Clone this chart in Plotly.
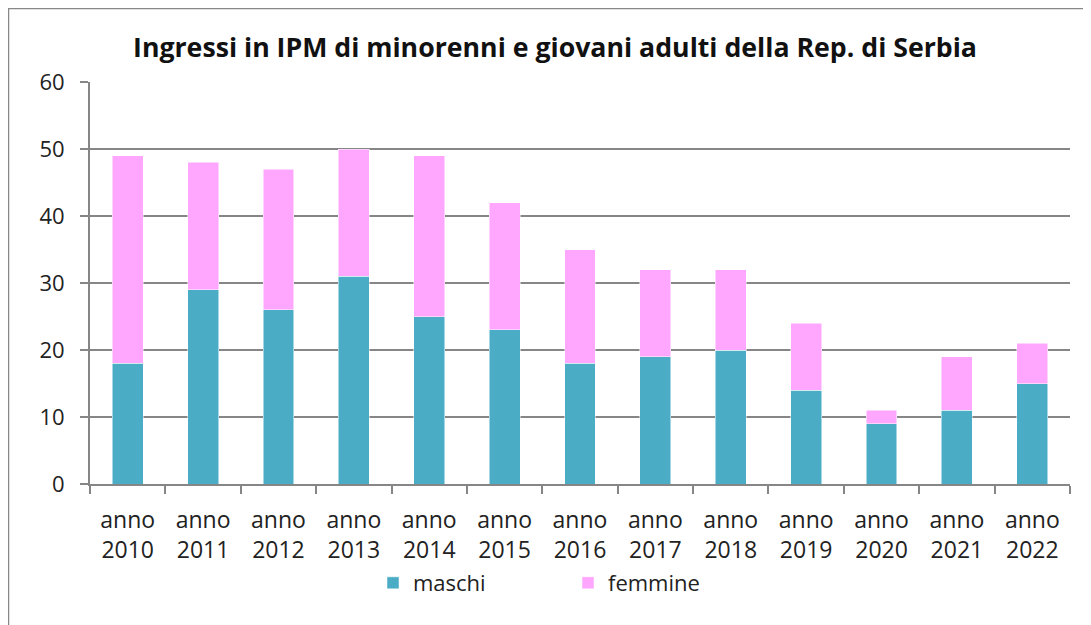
import plotly.graph_objects as go

categories = ["anno<br>2010", "anno<br>2011", "anno<br>2012", "anno<br>2013", "anno<br>2014",
              "anno<br>2015", "anno<br>2016", "anno<br>2017", "anno<br>2018", "anno<br>2019",
              "anno<br>2020", "anno<br>2021", "anno<br>2022"]
maschi = [18, 29, 26, 31, 25, 23, 18, 19, 20, 14, 9, 11, 15]
femmine = [31, 19, 21, 19, 24, 19, 17, 13, 12, 10, 2, 8, 6]
y_ticks = [0, 10, 20, 30, 40, 50, 60]

# the page adds an 8px body margin; work in page pixels and convert
OFF = 8
W, H = 1091 - OFF, 625 - OFF
L, T = 90 - OFF, 82 - OFF
R = W - (1070 - OFF)
B = H - (484 - OFF)
pw, ph = W - L - R, H - T - B

def px(x):
    return (x - OFF - L) / pw

def py(y):
    return (H - B - (y - OFF)) / ph

FONT = "Open Sans"
fig = go.Figure()
fig.add_trace(go.Bar(x=categories, y=maschi, name="maschi",
                     marker=dict(color="#4BACC6", line=dict(color="white", width=0.5))))
fig.add_trace(go.Bar(x=categories, y=femmine, name="femmine",
                     marker=dict(color="#FFA6FF", line=dict(color="white", width=0.5))))

fig.update_layout(
    width=W, height=H,
    barmode="stack", bargap=0.59,
    margin=dict(l=L, r=R, t=T, b=B, autoexpand=False),
    paper_bgcolor="white", plot_bgcolor="white",
    font=dict(family=FONT, size=22, color="#222222"),
    title=dict(text="<b>Ingressi in IPM di minorenni e giovani adulti della Rep. di Serbia</b>",
               x=px(555), xref="paper", xanchor="center",
               y=1 - (48 - OFF) / H, yanchor="middle",
               font=dict(family=FONT, size=26.7, color="#111111")),
    legend=dict(orientation="h", x=px(373), xanchor="left", y=py(583), yanchor="middle",
                font=dict(size=22), entrywidth=150, itemwidth=30,
                traceorder="normal"),
    xaxis=dict(type="category", showgrid=False, showline=True, linecolor="#868686", linewidth=2,
               ticks="outside", tickson="boundaries", ticklen=8, tickcolor="#868686", tickwidth=2,
               tickfont=dict(size=23), ticklabelstandoff=14, fixedrange=True),
    yaxis=dict(range=[0, 60], tickvals=y_ticks, showgrid=True, gridcolor="#868686", gridwidth=1.5,
               showline=True, linecolor="#868686", linewidth=2, zeroline=False,
               ticks="outside", ticklen=8, tickcolor="#868686", tickwidth=1.5,
               tickfont=dict(size=22), ticklabelstandoff=11),
)

# outer chart border (top and left edges visible)
fig.add_shape(type="line", xref="paper", yref="paper", x0=px(8), x1=px(1100), y0=py(8), y1=py(8),
              line=dict(color="#888888", width=2.5))
fig.add_shape(type="line", xref="paper", yref="paper", x0=px(8), x1=px(8), y0=py(8), y1=py(640),
              line=dict(color="#888888", width=2.5))

fig.write_html("out.html")
